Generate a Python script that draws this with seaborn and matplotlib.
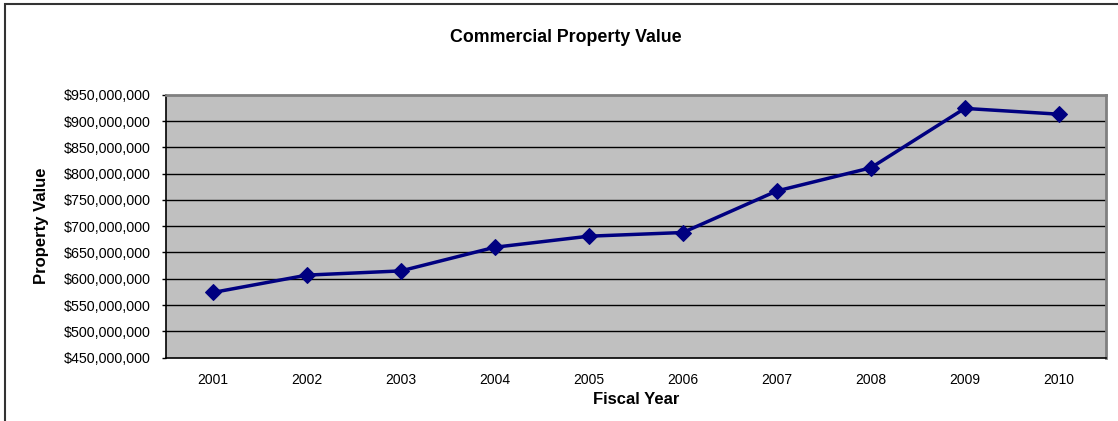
import matplotlib
matplotlib.use("Agg")
import matplotlib.pyplot as plt
import matplotlib.ticker as mticker
from matplotlib.patches import Rectangle
import numpy as np
import pandas as pd
import seaborn as sns

# Commercial property value by fiscal year
years = [2001, 2002, 2003, 2004, 2005, 2006, 2007, 2008, 2009, 2010]
values = [574e6, 607e6, 615e6, 660e6, 681e6, 688e6, 767e6, 811e6, 924e6, 913e6]
y_ticks = [450e6, 500e6, 550e6, 600e6, 650e6, 700e6, 750e6, 800e6, 850e6, 900e6, 950e6]

sns.set_theme(style="white")
plt.rcParams["font.family"] = ["Liberation Sans", "DejaVu Sans"]
plt.rcParams["text.color"] = "black"
plt.rcParams["axes.labelcolor"] = "black"
plt.rcParams["xtick.color"] = "black"
plt.rcParams["ytick.color"] = "black"

df = pd.DataFrame({"Fiscal Year": years, "Property Value": values})

fig = plt.figure(figsize=(11.18, 4.21), dpi=100)
ax = fig.add_axes([0.1485, 0.1504, 0.8405, 0.6246])
ax.set_facecolor("#C0C0C0")

for yt in y_ticks[1:-1]:
    ax.axhline(yt, color="black", linewidth=1.0, zorder=1)

sns.lineplot(data=df, x="Fiscal Year", y="Property Value", ax=ax,
             color="#000080", linewidth=2.5, marker="D", markersize=8.5,
             markeredgecolor="#000080", zorder=3)

ax.set_xlim(2000.5, 2010.5)
ax.set_ylim(450e6, 950e6)
ax.set_yticks(y_ticks)
ax.yaxis.set_major_formatter(mticker.FuncFormatter(lambda v, p: f"${v:,.0f}"))
ax.set_xticks(years)
ax.set_xticklabels([str(y) for y in years])
ax.set_xticks(np.arange(2000.5, 2011, 1.0), minor=True)

ax.tick_params(axis="x", which="major", length=0, pad=11, labelsize=10, labelcolor="black")
ax.tick_params(axis="x", which="minor", length=3, width=1, color="black", direction="out")
ax.tick_params(axis="y", which="major", length=3, width=1, color="black",
               direction="out", labelsize=10.3, pad=8, labelcolor="black")
ax.tick_params(left=True, bottom=True)

for side in ("left", "bottom"):
    ax.spines[side].set_color("black")
    ax.spines[side].set_linewidth(1.2)
for side in ("top", "right"):
    ax.spines[side].set_color("#808080")
    ax.spines[side].set_linewidth(2)

ax.set_xlabel("Fiscal Year", fontsize=12, fontweight="bold", labelpad=3.5, color="black")
ax.set_ylabel("Property Value", fontsize=12, fontweight="bold", labelpad=10.5, color="black")
fig.text(0.506, 1 - 38 / 421, "Commercial Property Value", ha="center", va="center",
         fontsize=12.8, fontweight="bold", color="black")

# Chart frame
fig.patches.append(Rectangle((4.5 / 1118, -0.1), 1.2, 1.1 - 4.5 / 421,
                             transform=fig.transFigure, fill=False,
                             edgecolor="#333333", linewidth=1.5))

fig.savefig("out.png", dpi=100)
